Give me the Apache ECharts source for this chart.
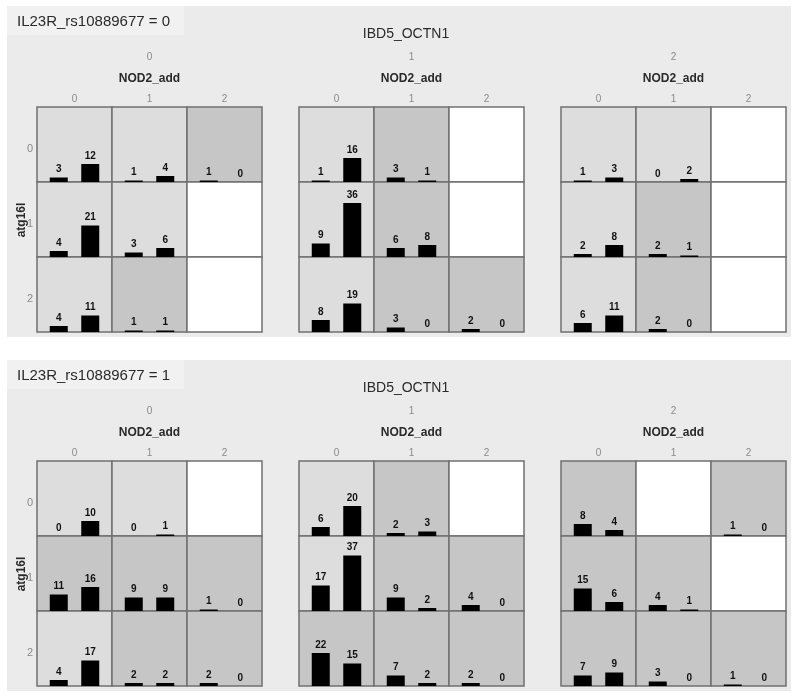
<!DOCTYPE html>
<html>
<head>
<meta charset="utf-8">
<script src="https://cdn.jsdelivr.net/npm/echarts@6/dist/echarts.min.js"></script>
<style>
html,body{margin:0;padding:0;background:#ffffff;}
#main{width:800px;height:700px;}
</style>
</head>
<body>
<div id="main"></div>
<script>
// ---------- data ----------
const il23rLevels = ['0', '1'];
const ibd5Levels = ['0', '1', '2'];
const nod2Levels = ['0', '1', '2'];
const atg16lLevels = ['0', '1', '2'];
const barCategories = ['a', 'b'];

// counts per cell: rows = atg16l, cols = NOD2_add, each [bar1, bar2]; null = empty cell
const il0_ibd0 = [[[3, 12], [1, 4], [1, 0]], [[4, 21], [3, 6], null], [[4, 11], [1, 1], null]];
const il0_ibd1 = [[[1, 16], [3, 1], null], [[9, 36], [6, 8], null], [[8, 19], [3, 0], [2, 0]]];
const il0_ibd2 = [[[1, 3], [0, 2], null], [[2, 8], [2, 1], null], [[6, 11], [2, 0], null]];
const il1_ibd0 = [[[0, 10], [0, 1], null], [[11, 16], [9, 9], [1, 0]], [[4, 17], [2, 2], [2, 0]]];
const il1_ibd1 = [[[6, 20], [2, 3], null], [[17, 37], [9, 2], [4, 0]], [[22, 15], [7, 2], [2, 0]]];
const il1_ibd2 = [[[8, 4], null, [1, 0]], [[15, 6], [4, 1], null], [[7, 9], [3, 0], [1, 0]]];

// cell shading: L = light, D = dark, W = empty (white)
const shade_il0_ibd0 = ['LLD', 'LLW', 'LDW'];
const shade_il0_ibd1 = ['LDW', 'LDW', 'LDD'];
const shade_il0_ibd2 = ['LLW', 'LDW', 'LDW'];
const shade_il1_ibd0 = ['LLW', 'DDD', 'LDD'];
const shade_il1_ibd1 = ['LDW', 'LDD', 'DDD'];
const shade_il1_ibd2 = ['DWD', 'DDW', 'DDD'];

const panelCounts = [[il0_ibd0, il0_ibd1, il0_ibd2], [il1_ibd0, il1_ibd1, il1_ibd2]];
const panelShades = [[shade_il0_ibd0, shade_il0_ibd1, shade_il0_ibd2], [shade_il1_ibd0, shade_il1_ibd1, shade_il1_ibd2]];

// ---------- layout ----------
const shadeColor = { L: '#dddddd', D: '#c6c6c6', W: '#ffffff' };
const panelOffset = [0, 354];
const blockLeft = [37, 299, 561];
const cellW = 75, cellH = 75;
const gridTop0 = 107;
const yMax = 50;

const chart = echarts.init(document.getElementById('main'));
const grids = [], xAxes = [], yAxes = [], series = [], graphics = [];

const grayText = '#8a8a8a';
const darkText = '#2a2a2a';

il23rLevels.forEach(function (il, p) {
  const off = panelOffset[p];
  // panel background
  graphics.push({ type: 'rect', shape: { x: 7, y: 6 + off, width: 784, height: 331 }, style: { fill: '#ebebeb' } });
  graphics.push({ type: 'rect', shape: { x: 7, y: 6 + off, width: 177, height: 29 }, style: { fill: '#f1f1f1' } });
  graphics.push({ type: 'text', x: 17, y: 22 + off, style: { text: 'IL23R_rs10889677 = ' + il, font: '15px "Liberation Sans", Arial, sans-serif', fill: darkText, textVerticalAlign: 'middle' } });
  graphics.push({ type: 'text', x: 406, y: 34 + off, style: { text: 'IBD5_OCTN1', font: '14px "Liberation Sans", Arial, sans-serif', fill: darkText, textAlign: 'center', textVerticalAlign: 'middle' } });
  // atg16l label
  graphics.push({ type: 'text', x: 22, y: 220 + off, rotation: Math.PI / 2, style: { text: 'atg16l', font: 'bold 12px "Liberation Sans", Arial, sans-serif', fill: darkText, textAlign: 'center', textVerticalAlign: 'middle' } });
  atg16lLevels.forEach(function (a, r) {
    graphics.push({ type: 'text', x: 30, y: gridTop0 + off + r * cellH + cellH / 2 + 4, style: { text: a, font: '11px "Liberation Sans", Arial, sans-serif', fill: grayText, textAlign: 'center', textVerticalAlign: 'middle' } });
  });

  ibd5Levels.forEach(function (ib, b) {
    const bx = blockLeft[b];
    const cx = bx + cellW * 1.5;
    graphics.push({ type: 'text', x: cx, y: 57 + off, style: { text: ib, font: '10px "Liberation Sans", Arial, sans-serif', fill: grayText, textAlign: 'center', textVerticalAlign: 'middle' } });
    graphics.push({ type: 'text', x: cx, y: 79 + off, style: { text: 'NOD2_add', font: 'bold 12px "Liberation Sans", Arial, sans-serif', fill: darkText, textAlign: 'center', textVerticalAlign: 'middle' } });
    nod2Levels.forEach(function (n, c) {
      graphics.push({ type: 'text', x: bx + c * cellW + cellW / 2, y: 99 + off, style: { text: n, font: '10px "Liberation Sans", Arial, sans-serif', fill: grayText, textAlign: 'center', textVerticalAlign: 'middle' } });
    });
    const counts = panelCounts[p][b];
    const shades = panelShades[p][b];
    atg16lLevels.forEach(function (a, r) {
      nod2Levels.forEach(function (n, c) {
        const x0 = bx + c * cellW;
        const y0 = gridTop0 + off + r * cellH;
        graphics.push({ type: 'rect', shape: { x: x0, y: y0, width: cellW, height: cellH }, style: { fill: shadeColor[shades[r][c]], stroke: '#707070', lineWidth: 1.5 } });
        const vals = counts[r][c];
        if (!vals) return;
        const gi = grids.length;
        grids.push({ left: x0 + 6, top: y0, width: cellW - 12, height: cellH, show: false });
        xAxes.push({ type: 'category', gridIndex: gi, data: barCategories, show: false });
        yAxes.push({ type: 'value', gridIndex: gi, min: 0, max: yMax, show: false });
        series.push({
          type: 'bar', xAxisIndex: gi, yAxisIndex: gi, data: vals, barWidth: 18,
          itemStyle: { color: '#000000' }, silent: true, animation: false,
          label: { show: true, position: 'top', distance: 3, color: '#111111', fontWeight: 'bold', fontSize: 10, fontFamily: '"Liberation Sans", Arial, sans-serif' }
        });
      });
    });
  });
});

chart.setOption({
  animation: false,
  backgroundColor: '#ffffff',
  grid: grids,
  xAxis: xAxes,
  yAxis: yAxes,
  series: series,
  graphic: { elements: graphics }
});
</script>
</body>
</html>
